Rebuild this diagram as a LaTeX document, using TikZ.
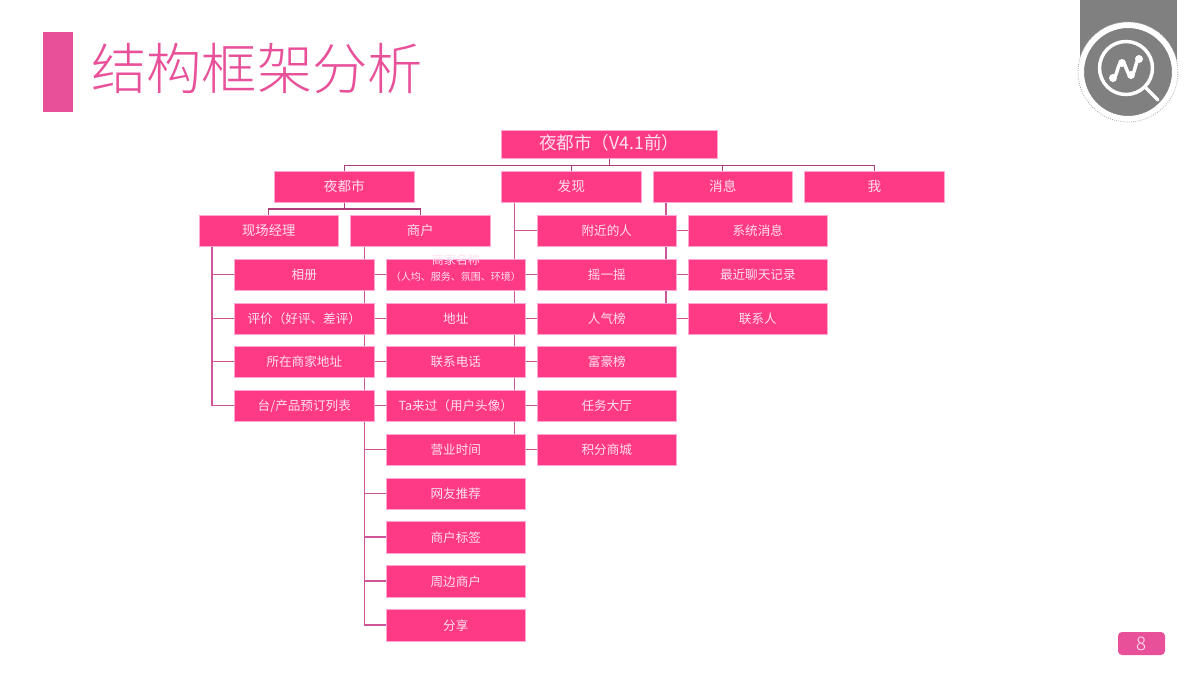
\documentclass[tikz,border=0pt]{standalone}
\usepackage{fontspec}
\setmainfont{Noto Sans CJK SC}
\newfontfamily\lightcjk{Noto Sans CJK SC Light}
\usetikzlibrary{calc}
\pgfdeclarelayer{back}
\pgfsetlayers{back,main}
\definecolor{boxpink}{HTML}{FF3A85}
\definecolor{boxedge}{HTML}{FFA6D4}
\definecolor{linepink}{HTML}{CF5598}
\definecolor{busline}{HTML}{AE3F7C}
\definecolor{titlepink}{HTML}{E8519A}
\definecolor{icongray}{HTML}{808080}
\definecolor{txtpink}{HTML}{FFE0F0}
\tikzset{
  x=.75pt,y=-.75pt,
  bx/.style={draw=boxedge,line width=.5pt,fill=boxpink,text=txtpink,inner sep=0pt,
    text height=.88em,text depth=.12em,
    minimum width=104.6pt,minimum height=23.8pt,font=\fontsize{10pt}{12pt}\selectfont},
  rootbx/.style={bx,minimum width=162.4pt,minimum height=21.6pt,font=\fontsize{13.2pt}{15pt}\selectfont},
  topbx/.style={bx,font=\fontsize{10.2pt}{12pt}\selectfont},
  sm/.style={bx,font=\fontsize{9.45pt}{11pt}\selectfont},
  conn/.style={draw=linepink,line width=.9pt},
  bus/.style={draw=busline,line width=.8pt},
  tinytext/.style={text=txtpink,inner sep=0pt,align=center},
  titletext/.style={text=titlepink,inner sep=0pt,anchor=west,font=\lightcjk\fontsize{41.5pt}{48pt}\selectfont},
  pagetext/.style={text=txtpink,inner sep=0pt,font=\lightcjk\fontsize{14pt}{16pt}\selectfont},
  whiteline/.style={draw=white,line width=2.6pt,line cap=round,line join=round}
}
\begin{document}
\begin{tikzpicture}
\useasboundingbox (0,0) rectangle (1200,675);
% header
\fill[titlepink] (43,32) rectangle (73,112);
\node[titletext] (title) at (91,68) {结构框架分析};
% icon
\fill[icongray] (1080,0) rectangle (1177,72);
\fill[white] (1128,72) circle [radius=50];
\draw[icongray!70,line width=.6pt,densely dotted] (1128,72) circle [radius=50];
\fill[icongray] (1128,72) circle [radius=47];
\draw[white,line width=3pt] (1128,72) circle [radius=46];
\draw[whiteline] (1126,68) circle [radius=26.5];
\draw[whiteline] (1146,88) -- (1158,100);
\draw[whiteline] (1113,78) .. controls (1118,76) and (1117,63) .. (1122,63) .. controls (1127,63) and (1126,75) .. (1131,75) .. controls (1135,75) and (1135,62) .. (1139,59);
\foreach \p in {(1113,78),(1122,63),(1131,75),(1139,59)} \fill[white] \p circle [radius=4];
% page number
\fill[titlepink,rounded corners=3pt] (1118,632) rectangle (1165,655);
\node[pagetext] (page) at (1141.5,643.5) {8};
% boxes
\node[rootbx] (root) at (609.2,144.3) {夜都市（V4.1前）};
\node[topbx] (n1) at (344.3,186.8) {夜都市};
\node[topbx] (n2) at (571.3,186.8) {发现};
\node[topbx] (n3) at (722.8,186.8) {消息};
\node[topbx] (n4) at (874.3,186.8) {我};
\node[bx] (m) at (268.8,230.8) {现场经理};
\node[bx] (s) at (420.3,230.8) {商户};
\node[sm] (a1) at (304.3,274.8) {相册};
\node[sm] (a2) at (304.3,318.8) {评价（好评、差评）};
\node[sm] (a3) at (304.3,361.8) {所在商家地址};
\node[sm] (a4) at (304.3,405.8) {台/产品预订列表};
\node[sm] (b1) at (455.8,274.8) {};
\node[tinytext] (b1t) at (455.8,267.8) {\fontsize{9pt}{11pt}\selectfont 商家名称\\\fontsize{7.5pt}{11pt}\selectfont（人均、服务、氛围、环境）};
\node[sm] (b2) at (455.8,318.8) {地址};
\node[sm] (b3) at (455.8,361.8) {联系电话};
\node[sm] (b4) at (455.8,405.8) {Ta来过（用户头像）};
\node[sm] (b5) at (455.8,449.8) {营业时间};
\node[sm] (b6) at (455.8,493.8) {网友推荐};
\node[sm] (b7) at (455.8,537) {商户标签};
\node[sm] (b8) at (455.8,581) {周边商户};
\node[sm] (b9) at (455.8,625) {分享};
\node[sm] (c1) at (606.8,230.8) {附近的人};
\node[sm] (c2) at (606.8,274.8) {摇一摇};
\node[sm] (c3) at (606.8,318.8) {人气榜};
\node[sm] (c4) at (606.8,361.8) {富豪榜};
\node[sm] (c5) at (606.8,405.8) {任务大厅};
\node[sm] (c6) at (606.8,449.8) {积分商城};
\node[sm] (d1) at (757.8,230.8) {系统消息};
\node[sm] (d2) at (757.8,274.8) {最近聊天记录};
\node[sm] (d3) at (757.8,318.8) {联系人};
% connectors
\begin{pgfonlayer}{back}
\coordinate (busy) at (609.5,165.5);
\coordinate (busz) at (344.5,209);
\draw[bus] (root.south) -- (root.south |- busy);
\foreach \c in {n1,n2,n3,n4} \draw[bus] (root.south |- busy) -| (\c.north);
\draw[bus] (n1.south) -- (n1.south |- busz);
\foreach \c in {m,s} \draw[bus] (n1.south |- busz) -| (\c.north);
\foreach \c in {a1,a2,a3,a4} \draw[conn] ([xshift=10pt]m.south west) |- (\c.west);
\foreach \c in {b1,b2,b3,b4,b5,b6,b7,b8,b9} \draw[conn] ([xshift=10.5pt]s.south west) |- (\c.west);
\foreach \c in {c1,c2,c3,c4,c5,c6} \draw[conn] ([xshift=10.2pt]n2.south west) |- (\c.west);
\foreach \c in {d1,d2,d3} \draw[conn] ([xshift=10pt]n3.south west) |- (\c.west);
\end{pgfonlayer}
\end{tikzpicture}
\end{document}
